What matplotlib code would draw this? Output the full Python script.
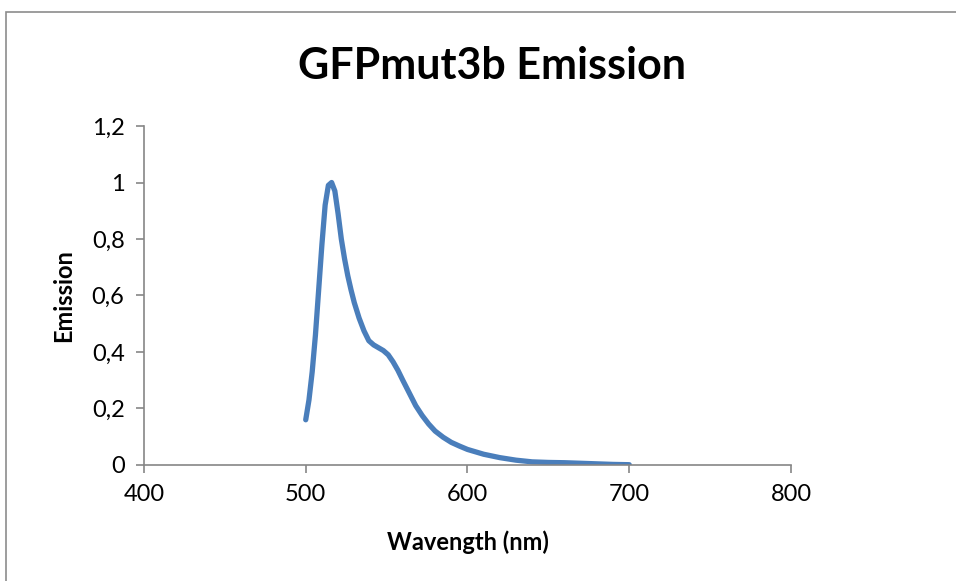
import matplotlib.pyplot as plt
from matplotlib.patches import Rectangle

# emission spectrum
wavelength = [500, 502, 504, 506, 508, 510, 512, 514, 516, 518, 520, 522, 524, 526,
              528, 530, 533, 536, 539, 542, 545, 548, 551, 554, 557, 560, 564, 568,
              572, 576, 580, 585, 590, 595, 600, 610, 620, 630, 640, 650, 660, 670,
              680, 690, 700]
emission = [0.16, 0.23, 0.33, 0.46, 0.62, 0.78, 0.92, 0.99, 1.00, 0.97, 0.89, 0.80,
            0.73, 0.67, 0.62, 0.575, 0.52, 0.475, 0.44, 0.425, 0.415, 0.405, 0.39,
            0.365, 0.335, 0.30, 0.255, 0.21, 0.175, 0.145, 0.12, 0.098, 0.08, 0.067,
            0.055, 0.038, 0.026, 0.017, 0.011, 0.009, 0.008, 0.006, 0.004, 0.002, 0.001]

x_ticks = [400, 500, 600, 700, 800]
y_ticks = [0, 0.2, 0.4, 0.6, 0.8, 1.0, 1.2]
y_tick_labels = ['0', '0,2', '0,4', '0,6', '0,8', '1', '1,2']

plt.rcParams['font.family'] = ['Lato', 'DejaVu Sans']

fig = plt.figure(figsize=(9.56, 5.81), dpi=100)
fig.patches.append(Rectangle((6 / 956, -0.1), 1.2, 1 - 12 / 581 + 0.1,
                             transform=fig.transFigure, fill=False,
                             edgecolor='#8c8c8c', linewidth=1.2))

ax = fig.add_axes([0.1506, 0.1997, 0.6768, 0.5834])
ax.plot(wavelength, emission, color='#4a7ebb', linewidth=3.8,
        solid_joinstyle='round', solid_capstyle='round')

ax.set_xlim(400, 800)
ax.set_ylim(0, 1.2)
ax.set_xticks(x_ticks)
ax.set_yticks(y_ticks)
ax.set_yticklabels(y_tick_labels)

for s in ['top', 'right']:
    ax.spines[s].set_visible(False)
for s in ['left', 'bottom']:
    ax.spines[s].set_color('#868686')
    ax.spines[s].set_linewidth(1.2)
ax.tick_params(axis='both', direction='out', length=6, width=1.2,
               color='#868686', labelsize=17, pad=8)

ax.set_xlabel('Wavength (nm)', fontsize=17, fontweight='bold', labelpad=18)
ax.set_ylabel('Emission', fontsize=17, fontweight='bold', labelpad=12)
fig.text(492 / 956, 1 - 66 / 581, 'GFPmut3b Emission', fontsize=31,
         fontweight='bold', ha='center', va='center')

fig.savefig('out.png', dpi=100)
